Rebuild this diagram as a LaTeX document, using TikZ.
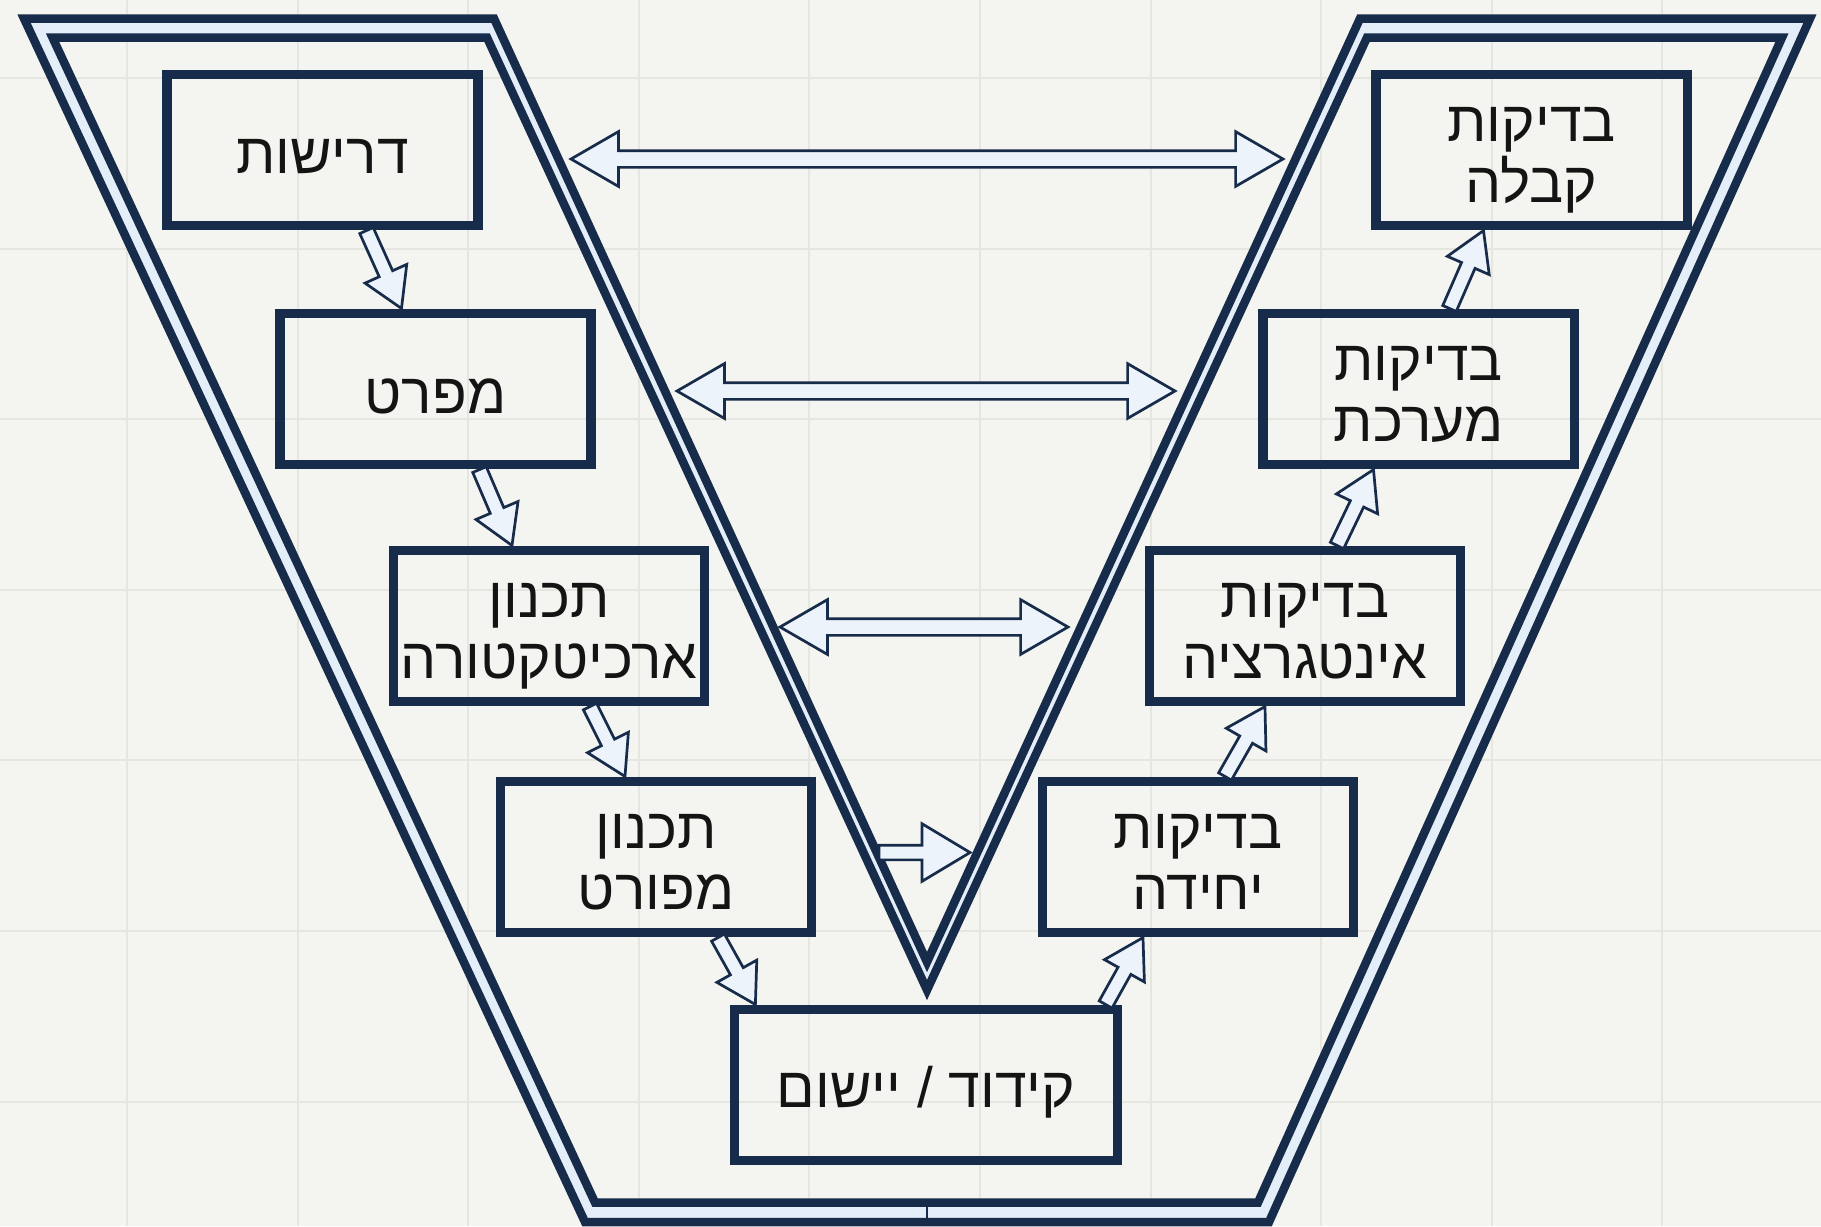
\documentclass[tikz,border=0pt]{standalone}
\usepackage{fontspec}
\usetikzlibrary{calc,shapes.arrows}
\newfontfamily\hebfont[Script=Hebrew]{Liberation Sans}
\TeXXeTstate=1
\definecolor{navy}{HTML}{172B4A}
\definecolor{bgc}{HTML}{F4F4F0}
\definecolor{gridc}{HTML}{E6E6E1}
\definecolor{gapc}{HTML}{E4EEF9}
\definecolor{arrfill}{HTML}{EDF3FA}
\tikzset{
  stagebox/.style={draw=navy, line width=0.092cm, minimum width=3.11cm, minimum height=1.51cm,
    inner sep=0pt, outer sep=0pt},
  stagetext/.style={font=\hebfont\fontsize{16.2}{17.3}\selectfont, align=center, text=black!92,
    inner sep=0pt},
  onel/.style={label={[stagetext, yshift=-0.07cm]center:#1}},
  twol/.style={label={[stagetext, text depth=0pt, yshift=-0.05cm]center:#1}},
  vline/.style={draw=navy, line width=0.085cm, line join=miter},
  gridline/.style={draw=gridc, line width=0.02cm},
  smallarrow/.style={single arrow, draw=navy, fill=arrfill, line width=0.027cm, inner xsep=0pt,
    inner ysep=0.06cm, single arrow head extend=0.155cm, single arrow tip angle=62,
    minimum width=0pt, outer sep=0pt},
  bigarrow/.style={double arrow, draw=navy, fill=arrfill, line width=0.027cm, inner xsep=0pt,
    inner ysep=0.07cm, double arrow head extend=0.19cm, double arrow tip angle=60,
    minimum width=0pt, outer sep=0pt},
}
\newcommand\flowarrow[3][]{\path let \p1=($(#3)-(#2)$), \n1={atan2(\y1,\x1)}, \n2={veclen(\x1,\y1)} in
  node[smallarrow, rotate=\n1, minimum height=\n2, anchor=tail, #1] at (#2) {};}
\newcommand\linkarrow[2]{\path let \p1=($(#2)-(#1)$), \n2={veclen(\x1,\y1)} in
  node[bigarrow, minimum height=\n2] at ($(#1)!0.5!(#2)$) {};}
\begin{document}
\begin{tikzpicture}[x=0.01cm, y=-0.01cm]
\useasboundingbox (0,0) rectangle (1821,1226);
\fill[bgc] (0,0) rectangle (1821,1226);
\foreach \k in {0,...,9} \draw[gridline] ({127+170.6*\k},0) -- ++(0,1226);
\foreach \k in {0,...,6} \draw[gridline] (0,{78+170.6*\k}) -- ++(1821,0);
% V frame
\fill[gapc, even odd rule] (24,18.5) -- (494,18.5) -- (927,962) -- (1360,18.5) -- (1810,18.5) -- (1269,1222) -- (585,1222) -- cycle
  (52.5,37.5) -- (487,37.5) -- (927,990) -- (1367,37.5) -- (1782,37.5) -- (1258,1202.5) -- (595,1202.5) -- cycle;
\draw[vline] (24,18.5) -- (494,18.5) -- (927,962) -- (1360,18.5) -- (1810,18.5) -- (1269,1222) -- (585,1222) -- cycle;
\draw[vline] (52.5,37.5) -- (487,37.5) -- (927,990) -- (1367,37.5) -- (1782,37.5) -- (1258,1202.5) -- (595,1202.5) -- cycle;
\draw[navy, line width=0.027cm] (927,1202.5) -- (927,1222);
% stages
\node[stagebox, onel={\beginR דרישות\endR}] (b1) at (322.5,150) {};
\node[stagebox, onel={\beginR מפרט\endR}] (b2) at (435.5,389) {};
\node[stagebox, twol={\beginR תכנון\endR\\\beginR ארכיטקטורה\endR}] (b3) at (549,626) {};
\node[stagebox, twol={\beginR תכנון\endR\\\beginR מפורט\endR}] (b4) at (656,857) {};
\node[stagebox, minimum width=3.83cm, onel={\beginR קידוד / יישום\endR}] (b5) at (926,1085) {};
\node[stagebox, twol={\beginR בדיקות\endR\\\beginR יחידה\endR}] (b6) at (1198,857) {};
\node[stagebox, twol={\beginR בדיקות\endR\\\beginR אינטגרציה\endR}] (b7) at (1305,626) {};
\node[stagebox, twol={\beginR בדיקות\endR\\\beginR מערכת\endR}] (b8) at (1418.5,389) {};
\node[stagebox, twol={\beginR בדיקות\endR\\\beginR קבלה\endR}] (b9) at (1531.5,150) {};
% flow arrows endpoints
\coordinate (s12) at ($(b1.south)+(44,5)$);   \coordinate (e12) at ($(b2.north)+(-34,-5)$);
\coordinate (s23) at ($(b2.south)+(44,5)$);   \coordinate (e23) at ($(b3.north)+(-37,-5)$);
\coordinate (s34) at ($(b3.south)+(41,5)$);   \coordinate (e34) at ($(b4.north)+(-31,-5)$);
\coordinate (s45) at ($(b4.south)+(62,5)$);   \coordinate (e45) at ($(b5.north west)+(21,-5)$);
\coordinate (s56) at ($(b5.north east)+(-12,-5)$); \coordinate (e56) at ($(b6.south)+(-55,5)$);
\coordinate (s67) at ($(b6.north)+(27,-5)$);  \coordinate (e67) at ($(b7.south)+(-40,5)$);
\coordinate (s78) at ($(b7.north)+(32,-5)$);  \coordinate (e78) at ($(b8.south)+(-45,5)$);
\coordinate (s89) at ($(b8.north)+(31,-5)$);  \coordinate (e89) at ($(b9.south)+(-48,5)$);
\flowarrow{s12}{e12}
\flowarrow{s23}{e23}
\flowarrow{s34}{e34}
\flowarrow{s45}{e45}
\flowarrow{s56}{e56}
\flowarrow{s67}{e67}
\flowarrow{s78}{e78}
\flowarrow{s89}{e89}
% links across the V
\coordinate (l1a) at (571,159);  \coordinate (l1b) at (1283,159);
\coordinate (l2a) at (677,391);  \coordinate (l2b) at (1175,391);
\coordinate (l3a) at (780,627);  \coordinate (l3b) at (1068,627);
\coordinate (l4a) at (879,852.5); \coordinate (l4b) at (970,852.5);
\linkarrow{l1a}{l1b}
\linkarrow{l2a}{l2b}
\linkarrow{l3a}{l3b}
\flowarrow[single arrow head extend=0.215cm]{l4a}{l4b}
\end{tikzpicture}
\end{document}
